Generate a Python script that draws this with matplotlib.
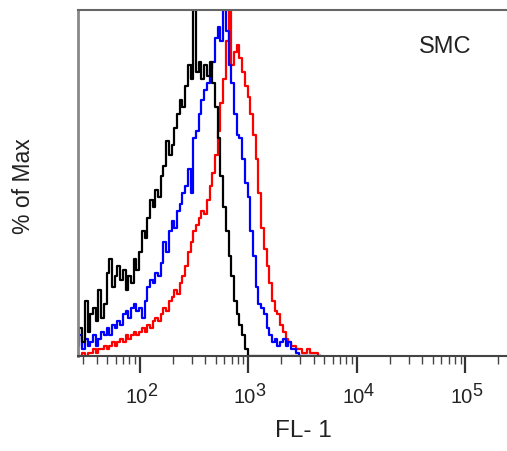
import numpy as np
import matplotlib
matplotlib.use("Agg")
import matplotlib.pyplot as plt
from matplotlib.ticker import LogLocator, NullFormatter, NullLocator

plt.rcParams['font.family'] = ['Liberation Sans', 'DejaVu Sans']

# log-spaced FL-1 channel grid (start and step in decades)
log_start = 1.43
log_step = 0.025

# % of max per channel
black = [5, 8, 4, 16, 7, 12, 14, 10, 19, 11,
         15, 24, 28, 20, 23, 26, 22, 25, 19, 23,
         21, 28, 25, 30, 36, 34, 40, 45, 43, 48,
         46, 52, 55, 62, 58, 61, 66, 70, 74, 72,
         78, 84, 80, 100, 82, 85, 80, 84, 81, 85,
         79, 72, 63, 52, 43, 36, 29, 23, 16, 12,
         9, 6, 2, 0, 0, 0, 0, 0, 0, 0,
         0, 0, 0, 0, 0, 0, 0, 0, 0, 0,
         0, 0, 0, 0, 0, 0, 0, 0, 0, 0]
blue = [3, 6, 2, 5, 3, 4, 6, 3, 5, 7,
        6, 8, 6, 9, 8, 10, 9, 12, 13, 11,
        14, 15, 13, 14, 11, 16, 20, 22, 21, 24,
        23, 27, 33, 30, 36, 39, 37, 42, 44, 47,
        49, 54, 47, 63, 65, 70, 74, 77, 79, 83,
        85, 92, 95, 91, 100, 94, 84, 79, 70, 64,
        63, 57, 50, 46, 36, 29, 20, 15, 14, 12,
        8, 6, 4, 5, 3, 4, 5, 3, 4, 2,
        2, 1, 0, 0, 0, 0, 0, 0, 0, 0]
red = [0, 0, 1, 0, 1, 1, 2, 1, 2, 2,
       3, 2, 3, 4, 3, 4, 5, 4, 6, 5,
       6, 7, 6, 7, 8, 7, 9, 8, 10, 11,
       10, 12, 14, 13, 16, 17, 19, 18, 21, 23,
       26, 30, 33, 36, 38, 40, 42, 41, 45, 49,
       53, 58, 65, 73, 80, 91, 100, 84, 88, 90,
       86, 82, 78, 75, 70, 64, 57, 47, 37, 31,
       26, 21, 16, 13, 12, 9, 7, 5, 4, 3,
       3, 2, 2, 1, 1, 2, 1, 1, 1, 0]

major_ticks = [1e2, 1e3, 1e4, 1e5]
tick_exponents = ['2', '3', '4', '5']

channels = 10 ** (log_start + log_step * np.arange(len(black)))

fig = plt.figure(figsize=(5.07, 4.51), dpi=100)
ax = fig.add_axes([78 / 507, 95 / 451, 432 / 507, 346 / 451])

ax.step(channels, red, where='mid', color='#ff0000', lw=1.6)
ax.step(channels, blue, where='mid', color='#0000ff', lw=1.6)
ax.step(channels, black, where='mid', color='#000000', lw=1.6)

ax.set_xscale('log')
ax.set_xlim(10 ** 1.43, 10 ** 5.41)
ax.set_ylim(0, 100)

ax.set_xticks(major_ticks)
ax.set_xticklabels([])
ax.xaxis.set_minor_locator(LogLocator(base=10, subs=np.arange(2, 10), numticks=20))
ax.xaxis.set_minor_formatter(NullFormatter())
ax.tick_params(axis='x', which='major', length=12, width=1.6, color='#333333')
ax.tick_params(axis='x', which='minor', length=6, width=1, color='#444444')
ax.yaxis.set_major_locator(NullLocator())

# tick labels drawn as "10" with a big raised exponent
for t, e in zip(major_ticks, tick_exponents):
    ax.annotate('10', xy=(t, 0), xycoords=('data', 'axes fraction'),
                xytext=(5.5, -34), textcoords='offset points',
                ha='right', va='baseline', fontsize=14.5, color='#222222')
    ax.annotate(e, xy=(t, 0), xycoords=('data', 'axes fraction'),
                xytext=(5.0, -28.5), textcoords='offset points',
                ha='left', va='baseline', fontsize=13, color='#222222')

ax.spines['right'].set_visible(False)
ax.spines['left'].set_color('#888888')
ax.spines['left'].set_linewidth(2)
ax.spines['top'].set_color('#666666')
ax.spines['top'].set_linewidth(1.5)
ax.spines['bottom'].set_color('#444444')
ax.spines['bottom'].set_linewidth(1.5)

fig.text(303 / 507, 1 - 431 / 451, 'FL- 1', fontsize=17.5, color='#222222',
         ha='center', va='center')
fig.text(24 / 507, 1 - 186 / 451, '% of Max', fontsize=16.5, color='#222222',
         ha='center', va='center', rotation=90)
fig.text(445 / 507, 1 - 47 / 451, 'SMC', fontsize=17, color='#222222',
         ha='center', va='center')

fig.savefig('out.png', dpi=100)
